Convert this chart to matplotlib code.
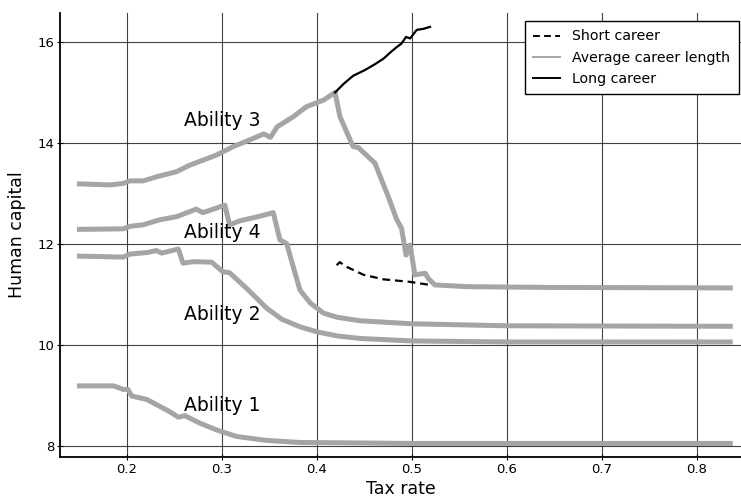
import matplotlib
matplotlib.use("Agg")
import matplotlib.pyplot as plt
from matplotlib.lines import Line2D

# ability 1
a1_x = [0.150, 0.186, 0.196, 0.201, 0.205, 0.221, 0.235, 0.245, 0.254, 0.261, 0.277,
        0.294, 0.315, 0.347, 0.382, 0.445, 0.50, 0.60, 0.835]
a1_y = [9.19, 9.19, 9.12, 9.12, 8.99, 8.92, 8.78, 8.68, 8.57, 8.60, 8.45,
        8.32, 8.19, 8.11, 8.07, 8.06, 8.05, 8.05, 8.05]

# ability 2
a2_x = [0.150, 0.196, 0.203, 0.221, 0.231, 0.2365, 0.254, 0.259, 0.270, 0.289, 0.301,
        0.308, 0.326, 0.347, 0.363, 0.382, 0.400, 0.421, 0.445, 0.50, 0.60, 0.835]
a2_y = [11.76, 11.74, 11.80, 11.83, 11.87, 11.82, 11.90, 11.62, 11.65, 11.64, 11.45,
        11.43, 11.12, 10.73, 10.51, 10.36, 10.26, 10.18, 10.13, 10.08, 10.06, 10.06]

# ability 4
a4_x = [0.150, 0.196, 0.203, 0.217, 0.2347, 0.252, 0.273, 0.280, 0.294, 0.303, 0.308,
        0.319, 0.340, 0.354, 0.361, 0.368, 0.375, 0.382, 0.393, 0.407, 0.421, 0.445,
        0.50, 0.60, 0.835]
a4_y = [12.29, 12.30, 12.35, 12.38, 12.48, 12.54, 12.69, 12.62, 12.71, 12.77, 12.38,
        12.46, 12.55, 12.62, 12.08, 12.01, 11.55, 11.09, 10.83, 10.63, 10.55, 10.48,
        10.42, 10.38, 10.37]

# ability 3
a3_x = [0.150, 0.182, 0.196, 0.203, 0.217, 0.231, 0.252, 0.266, 0.294, 0.312, 0.329,
        0.344, 0.351, 0.358, 0.375, 0.389, 0.407, 0.419, 0.4242, 0.438, 0.4435, 0.461,
        0.475, 0.484, 0.489, 0.4937, 0.498, 0.503, 0.514, 0.517, 0.524, 0.5575, 0.645,
        0.835]
a3_y = [13.19, 13.17, 13.20, 13.25, 13.25, 13.33, 13.43, 13.56, 13.76, 13.93, 14.06,
        14.18, 14.11, 14.32, 14.52, 14.72, 14.85, 15.00, 14.52, 13.93, 13.91, 13.60,
        12.94, 12.48, 12.31, 11.78, 11.98, 11.39, 11.42, 11.32, 11.19, 11.155, 11.14,
        11.13]

# ability 3, long career
long_x = [0.419, 0.428, 0.438, 0.450, 0.461, 0.470, 0.477, 0.484, 0.489, 0.4937,
          0.498, 0.505, 0.512, 0.519]
long_y = [15.00, 15.17, 15.33, 15.44, 15.56, 15.67, 15.79, 15.90, 15.97, 16.10,
          16.07, 16.24, 16.26, 16.30]

# ability 3, short career
short_x = [0.4207, 0.424, 0.431, 0.449, 0.470, 0.498, 0.508, 0.519]
short_y = [11.58, 11.64, 11.55, 11.39, 11.30, 11.25, 11.22, 11.19]

labels = ["Ability 1", "Ability 2", "Ability 4", "Ability 3"]
label_x = [0.30, 0.30, 0.30, 0.30]
label_y = [8.81, 10.61, 12.22, 14.44]

gray = "#a5a5a5"

fig = plt.figure(figsize=(7.41, 5.0), dpi=100)
ax = fig.add_axes([60 / 741, 43 / 500, 681 / 741, 444 / 500])

for xs, ys in [(a1_x, a1_y), (a2_x, a2_y), (a4_x, a4_y), (a3_x, a3_y)]:
    ax.plot(xs, ys, color=gray, lw=3.6, solid_joinstyle="round", zorder=3)
ax.plot(long_x, long_y, color="black", lw=1.6, zorder=4)
ax.plot(short_x, short_y, color="black", lw=1.6, ls=(0, (3.5, 2.2)), zorder=4)

for t, x, y in zip(labels, label_x, label_y):
    ax.text(x, y, t, fontsize=13.5, ha="center", va="center", zorder=5)

ax.set_xlim(0.1295, 0.8463)
ax.set_ylim(7.782, 16.574)
ax.set_xticks([0.2, 0.3, 0.4, 0.5, 0.6, 0.7, 0.8])
ax.set_yticks([8, 10, 12, 14, 16])
ax.grid(True, color="#222222", lw=0.8, alpha=0.85)
ax.set_axisbelow(True)
ax.spines["top"].set_visible(False)
ax.spines["right"].set_visible(False)
ax.spines["left"].set_linewidth(1.3)
ax.spines["bottom"].set_linewidth(1.3)
ax.tick_params(direction="inout", length=4, width=0.8, labelsize=9.5, pad=2)
ax.set_xlabel("Tax rate", fontsize=12.5, labelpad=3)
ax.set_ylabel("Human capital", fontsize=12.5, labelpad=8)

handles = [Line2D([], [], color="black", lw=1.4, ls=(0, (3.5, 2.2))),
           Line2D([], [], color=gray, lw=1.4),
           Line2D([], [], color="black", lw=1.4)]
leg = ax.legend(handles, ["Short career", "Average career length", "Long career"],
                loc="upper right", bbox_to_anchor=(0.997, 0.982), borderaxespad=0,
                fontsize=10.2, fancybox=False, framealpha=1, edgecolor="black",
                handlelength=1.85, handletextpad=0.9, labelspacing=0.5,
                borderpad=0.6)
leg.get_frame().set_linewidth(1.0)

fig.savefig("out.png", dpi=100)
